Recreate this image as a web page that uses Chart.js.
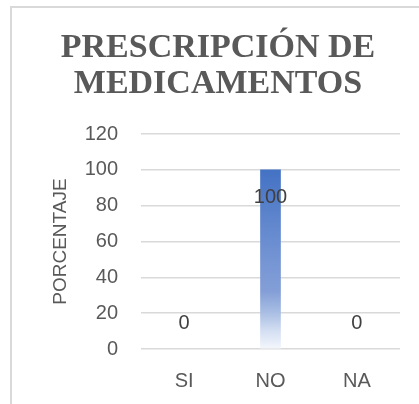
<!DOCTYPE html>
<html>
<head>
<meta charset="utf-8">
<script src="https://cdn.jsdelivr.net/npm/chart.js@4"></script>
<style>
    html, body { margin: 0; padding: 0; background: #fff; }
    #wrap { position: relative; width: 419px; height: 404px; overflow: hidden; }
    #frame { position: absolute; left: 10px; top: 6px; width: 500px; height: 500px;
             border-left: 2px solid #d9d9d9; border-top: 2px solid #d9d9d9; pointer-events: none; }
    canvas { display: block; }
</style>
</head>
<body>
<div id="wrap">
    <canvas id="myChart" width="419" height="404"></canvas>
    <div id="frame"></div>
</div>
<script>
const CATEGORIES = ["SI", "NO", "NA"];
const VALUES = [0, 100, 0];
const TITLE_LINES = ["PRESCRIPCIÓN DE", "MEDICAMENTOS"];
const Y_TITLE = "PORCENTAJE";

const SANS = "'Liberation Sans', Arial, sans-serif";

// gradient fill like the excel bar, from value down to the base line
function barGradient(context) {
    const chart = context.chart;
    const y = chart.scales.y;
    if (!context.raw) return "rgba(0,0,0,0)";
    if (!chart.chartArea || !y) return "#4472c4";
    const top = y.getPixelForValue(context.raw);
    const bottom = y.getPixelForValue(0);
    if (bottom - top < 1) return "#4472c4";
    const g = chart.ctx.createLinearGradient(0, top, 0, bottom);
    g.addColorStop(0, "#4472c4");
    g.addColorStop(0.45, "#6f91d2");
    g.addColorStop(0.68, "#849fd7");
    g.addColorStop(0.8, "#aabfe4");
    g.addColorStop(0.9, "#d4dff2");
    g.addColorStop(1, "#f4f7fc");
    return g;
}

const dataLabels = {
    id: "dataLabels",
    afterDatasetsDraw(chart) {
        const ctx = chart.ctx;
        const meta = chart.getDatasetMeta(0);
        ctx.save();
        ctx.font = "20px " + SANS;
        ctx.fillStyle = "#404040";
        ctx.textAlign = "center";
        ctx.textBaseline = "middle";
        meta.data.forEach((bar, i) => {
            let v = VALUES[i];
            let y = v > 0 ? bar.y + 28 : bar.base - 26;
            ctx.fillText(String(v), bar.x, y);
        });
        ctx.restore();
    }
};

const ctx = document.getElementById('myChart').getContext('2d');

new Chart(ctx, {
    type: 'bar',
    data: {
        labels: CATEGORIES,
        datasets: [{
            data: VALUES,
            backgroundColor: barGradient,
            borderWidth: 0,
            barThickness: 20,
        }]
    },
    options: {
        responsive: false,
        animation: false,
        layout: { padding: { left: 36, right: 19, top: 0, bottom: 12 } },
        plugins: {
            legend: { display: false },
            tooltip: { enabled: false },
            title: {
                display: true,
                text: TITLE_LINES,
                color: "#595959",
                font: { family: "'Liberation Serif', 'Times New Roman', serif", size: 34, weight: 'bold', lineHeight: 1.06 },
                padding: { top: 30, bottom: 32 },
            },
        },
        scales: {
            x: {
                grid: { display: false, drawTicks: false },
                border: { display: false },
                ticks: {
                    color: "#595959",
                    font: { family: SANS, size: 20 },
                    padding: 20,
                },
                afterFit(scale) { scale.height = 43; },
            },
            y: {
                min: 0,
                max: 120,
                ticks: {
                    stepSize: 20,
                    color: "#595959",
                    font: { family: SANS, size: 20 },
                    padding: 23,
                },
                grid: { color: "#d9d9d9", lineWidth: 1.5, drawTicks: false },
                border: { display: false },
                title: {
                    display: true,
                    text: Y_TITLE,
                    color: "#595959",
                    font: { family: SANS, size: 19 },
                    padding: { top: 13, bottom: 0 },
                },
                afterFit(scale) { scale.width = 105; },
            }
        }
    },
    plugins: [dataLabels],
});
</script>
</body>
</html>
